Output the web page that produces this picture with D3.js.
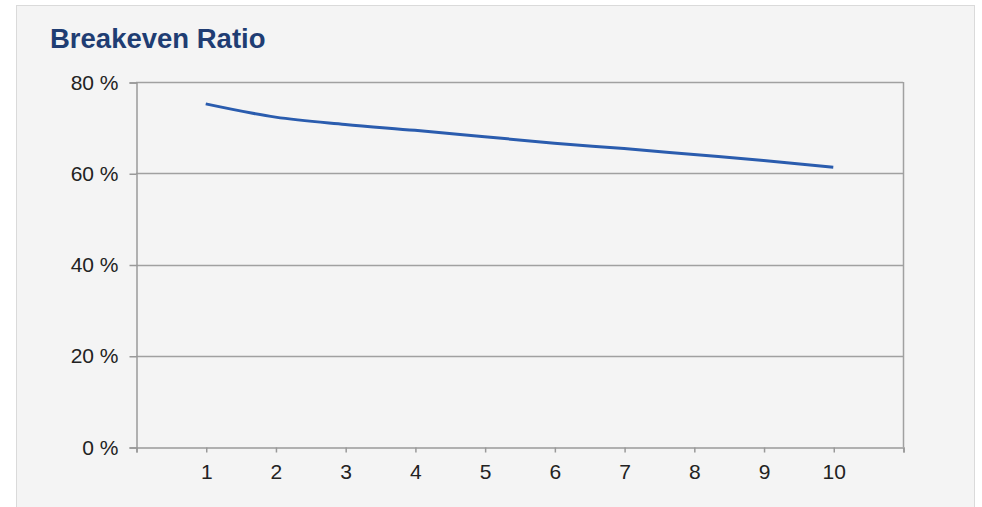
<!DOCTYPE html>
<html>
<head>
<meta charset="utf-8">
<script src="https://cdn.jsdelivr.net/npm/d3@7"></script>
<style>
  body { margin: 0; background: #fff; }
  svg { display: block; }
</style>
</head>
<body>
<div id="chart"></div>
<script>
var years = [1, 2, 3, 4, 5, 6, 7, 8, 9, 10];
var ratio = [75.2, 72.3, 70.7, 69.4, 68.0, 66.6, 65.4, 64.1, 62.8, 61.3];
var yTicks = [0, 20, 40, 60, 80];

var w = 982, h = 507;
var mLeft = 136, mRight = 903, mTop = 82, mBottom = 447;
var font = "Liberation Sans, Arial, sans-serif";

var svg = d3.select("#chart")
            .append("svg")
            .attr("width", w)
            .attr("height", h);

// panel
svg.append("rect")
    .attr("x", 16.5).attr("y", 5.5)
    .attr("width", 958).attr("height", 520)
    .attr("fill", "#f4f4f4")
    .attr("stroke", "#dadada");

svg.append("text")
    .attr("x", 50).attr("y", 48)
    .attr("font-family", font)
    .attr("font-size", 27.5)
    .attr("font-weight", "bold")
    .attr("fill", "#1f3d73")
    .text("Breakeven Ratio");

var x = d3.scaleLinear().domain([0, 11]).range([mLeft, mRight]);
var y = d3.scaleLinear().domain([0, 80]).range([mBottom, mTop]);

// grid lines
svg.append("g")
    .selectAll("line")
    .data(yTicks.filter(function(d){ return d > 0; }))
    .enter()
    .append("line")
    .attr("x1", mLeft).attr("x2", mRight)
    .attr("y1", function(d){ return Math.round(y(d)) + 0.5; })
    .attr("y2", function(d){ return Math.round(y(d)) + 0.5; })
    .attr("stroke", "#a0a0a0")
    .attr("stroke-width", 1.5);

// right border of plot
svg.append("line")
    .attr("x1", mRight + 0.5).attr("x2", mRight + 0.5)
    .attr("y1", mTop).attr("y2", mBottom)
    .attr("stroke", "#a0a0a0")
    .attr("stroke-width", 1.5);

var yAxis = d3.axisLeft(y)
              .tickValues(yTicks)
              .tickSize(7)
              .tickPadding(11)
              .tickFormat(function(d){ return d + " %"; });

var gy = svg.append("g")
    .attr("transform", "translate(" + (mLeft + 0.5) + ",0.5)")
    .call(yAxis);

var xAxis = d3.axisBottom(x)
              .tickValues(d3.range(0, 12))
              .tickSize(5)
              .tickPadding(12)
              .tickFormat(function(d){ return (d >= 1 && d <= 10) ? d : ""; });

var gx = svg.append("g")
    .attr("transform", "translate(0.5," + (mBottom + 0.5) + ")")
    .call(xAxis);

[gx, gy].forEach(function(g){
    g.selectAll("path, line").attr("stroke", "#999").attr("stroke-width", 1.5);
    g.selectAll("text")
        .attr("font-family", font)
        .attr("font-size", 21)
        .attr("fill", "#222");
});

var line = d3.line()
    .x(function(d, i){ return x(years[i]); })
    .y(function(d){ return y(d); })
    .curve(d3.curveMonotoneX);

svg.append("path")
    .datum(ratio)
    .attr("d", line)
    .attr("fill", "none")
    .attr("stroke", "#2a5cae")
    .attr("stroke-width", 3);
</script>
</body>
</html>
